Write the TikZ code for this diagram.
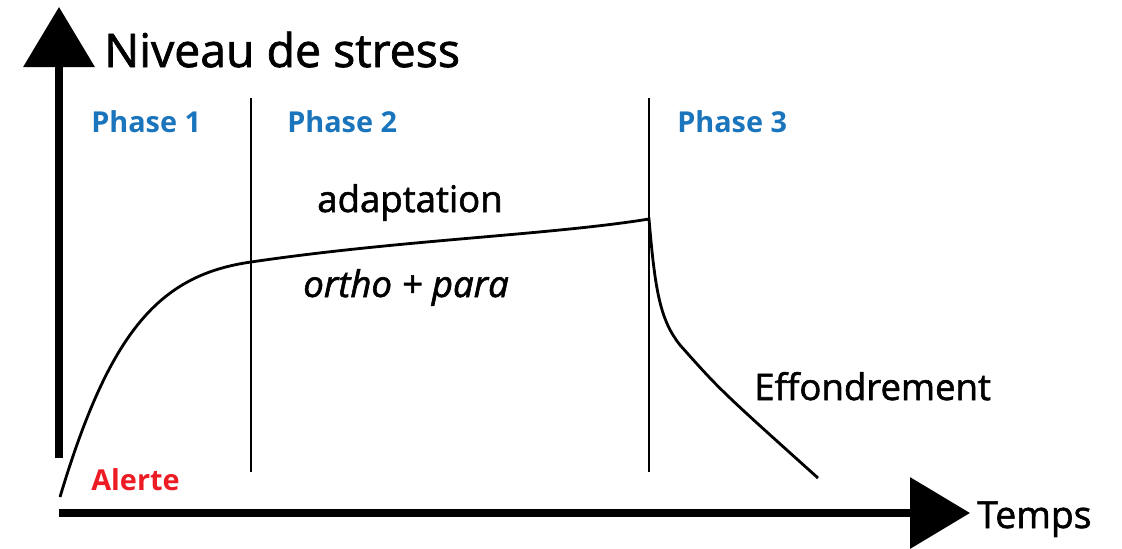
\documentclass[tikz,border=0pt]{standalone}
\usepackage{fontspec}
\setmainfont{Open Sans}
\usepackage{tikz}
\usetikzlibrary{calc,positioning,arrows.meta}
\definecolor{phaseblue}{RGB}{27,117,188}
\definecolor{alertred}{RGB}{237,28,36}

\begin{document}
\begin{tikzpicture}[x=0.025cm, y=-0.025cm, axe/.style={line width=5pt, -{Triangle[length=1.5cm, width=1.75cm]}}, sep/.style={line width=2pt}, courbe/.style={line width=2pt}, phase/.style={anchor=base west, inner sep=0pt, text=phaseblue, font=\fontsize{20.5}{24}\selectfont\bfseries}, lbl/.style={anchor=base west, inner sep=0pt, font=\fontsize{26}{30}\selectfont\addfontfeature{FakeBold=1.6}}]
\useasboundingbox (0,0) rectangle (1122,548);
\coordinate (o) at (59,513);
\coordinate (yb) at (59,458);
\coordinate (yt) at (59,7);
\coordinate (xt) at (970,513);
\draw[axe] (yb) -- (yt);
\draw[axe] (o) -- (xt);
\node[lbl, font=\fontsize{33}{36}\selectfont\addfontfeature{FakeBold=1.6}] (niv) at (104,67) {Niveau de stress};
\node[lbl, font=\fontsize{26.5}{30}\selectfont\addfontfeature{FakeBold=1.6}] (tps) at (977,528) {Temps};
\foreach \i/\x in {a/251,b/649}{\coordinate (\i1) at (\x,98); \coordinate (\i2) at (\x,472); \draw[sep] (\i1) -- (\i2);}
\node[phase] (p1) at (91,132) {Phase 1};
\node[phase] (p2) at (287,132) {Phase 2};
\node[phase] (p3) at (677,132) {Phase 3};
\node[lbl] (adap) at (317,212) {adaptation};
\node[lbl] (op) at (303,297) {\itshape\addfontfeature{FakeBold=1.6} ortho + para};
\node[lbl] (eff) at (754,400) {Effondrement};
\node[phase, text=alertred] (al) at (91,490) {Alerte};
\draw[courbe] (60,497) .. controls (110,330) and (160,275) .. (251,262) .. controls (400,240) and (550,235) .. (649,219) .. controls (655,290) and (660,320) .. (680,345) .. controls (720,390) .. (818,478);
\end{tikzpicture}
\end{document}
